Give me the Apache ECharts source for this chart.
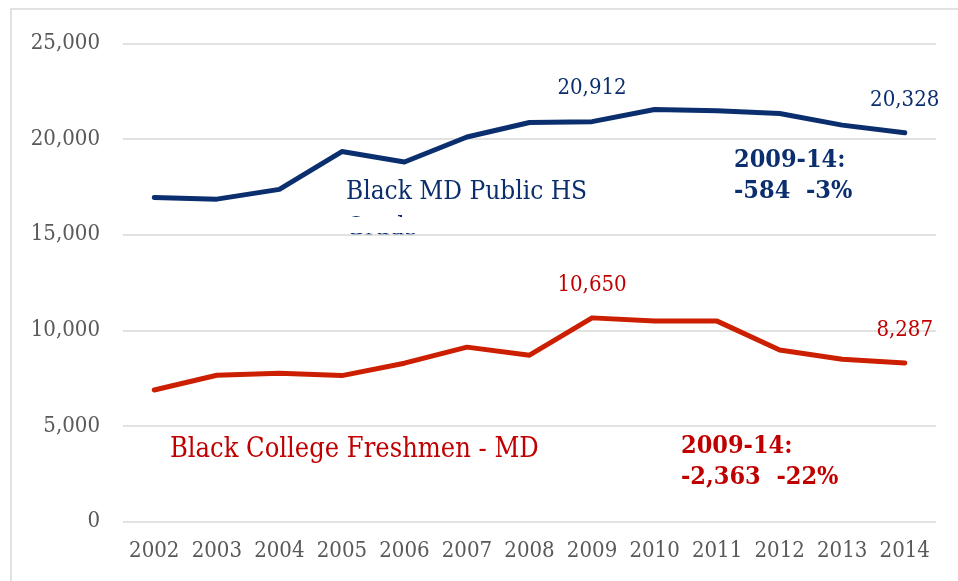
<!DOCTYPE html>
<html>
<head>
<meta charset="utf-8">
<script src="https://cdn.jsdelivr.net/npm/echarts@6/dist/echarts.min.js"></script>
<style>
  html, body { margin: 0; padding: 0; background: #fff; }
  #chart { width: 958px; height: 581px; }
</style>
</head>
<body>
<div id="chart"></div>
<script>
// data
var years = ['2002', '2003', '2004', '2005', '2006', '2007', '2008', '2009', '2010', '2011', '2012', '2013', '2014'];
var hsGrads = [16950, 16860, 17370, 19350, 18800, 20110, 20870, 20912, 21550, 21480, 21340, 20730, 20328];
var freshmen = [6880, 7650, 7750, 7630, 8280, 9120, 8700, 10650, 10490, 10480, 8970, 8490, 8287];
var labelled = ['2009', '2014'];

var FONT = '"DejaVu Serif Condensed", "DejaVu Serif", serif';
var NAVY = '#0b2f6e';
var RED = '#cc1f00';
var RED_TXT = '#c00000';

function fmt(v) {
  return String(v).replace(/\B(?=(\d{3})+(?!\d))/g, ',');
}

function pointLabels(values, color) {
  return values.map(function (v, i) {
    if (labelled.indexOf(years[i]) < 0) return v;
    return {
      value: v,
      label: {
        show: true,
        position: 'top',
        distance: 22,
        color: color,
        fontFamily: FONT,
        fontSize: 22,
        formatter: function (p) { return fmt(p.value); }
      }
    };
  });
}

var chart = echarts.init(document.getElementById('chart'));
chart.setOption({
  animation: false,
  grid: { left: 123, right: 22, top: 43.5, bottom: 59.5 },
  xAxis: {
    type: 'category',
    data: years,
    axisLine: { show: false },
    axisTick: { show: false },
    axisLabel: { interval: 0, color: '#595959', fontFamily: FONT, fontSize: 22, margin: 19 }
  },
  yAxis: {
    type: 'value',
    min: 0,
    max: 25000,
    interval: 5000,
    axisLabel: { color: '#595959', fontFamily: FONT, fontSize: 22, margin: 23, formatter: fmt },
    splitLine: { lineStyle: { color: '#d9d9d9', width: 1.5 } }
  },
  series: [
    {
      name: 'Black MD Public HS Grads',
      type: 'line',
      data: pointLabels(hsGrads, NAVY),
      symbol: 'circle',
      symbolSize: 0,
      lineStyle: { color: NAVY, width: 5, cap: 'round', join: 'round' },
      itemStyle: { color: NAVY }
    },
    {
      name: 'Black College Freshmen - MD',
      type: 'line',
      data: pointLabels(freshmen, RED_TXT),
      symbol: 'circle',
      symbolSize: 0,
      lineStyle: { color: RED, width: 5, cap: 'round', join: 'round' },
      itemStyle: { color: RED }
    }
  ],
  graphic: [
    { type: 'rect', shape: { x: 11, y: 9, width: 960, height: 600 }, style: { fill: 'none', stroke: '#d9d9d9', lineWidth: 1.5 }, silent: true, z: -10 },
    { type: 'text', left: 346, top: 174, style: { text: 'Black MD Public HS\nGrads', fill: NAVY, font: '26px ' + FONT, lineHeight: 36 } },
    { type: 'rect', shape: { x: 340, y: 217, width: 260, height: 16 }, style: { fill: '#fff' }, z: 200 },
    { type: 'text', left: 734, top: 145, style: { text: '2009-14:\n-584  -3%', fill: NAVY, font: 'bold 25px ' + FONT, lineHeight: 31 } },
    { type: 'text', left: 170, top: 436, style: { text: 'Black College Freshmen - MD', fill: RED_TXT, font: '27px ' + FONT } },
    { type: 'text', left: 681, top: 431, style: { text: '2009-14:\n-2,363  -22%', fill: RED_TXT, font: 'bold 25px ' + FONT, lineHeight: 31 } }
  ]
});
</script>
</body>
</html>
